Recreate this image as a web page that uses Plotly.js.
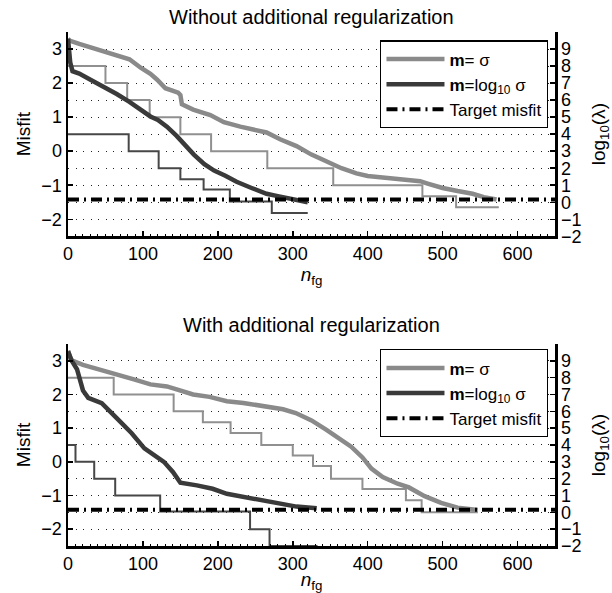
<!DOCTYPE html>
<html>
<head>
<meta charset="utf-8">
<script src="https://cdn.plot.ly/plotly-3.0.1.min.js"></script>
<style>html,body{margin:0;padding:0;background:#fff;}#chart{width:612px;height:593px;}</style>
</head>
<body>
<div id="chart"></div>
<script>
// ---------------- DATA ----------------
// Panel titles
const panelTitles = ["Without additional regularization", "With additional regularization"];
const legendNames = ["<b>m</b>= σ", "<b>m</b>=log<sub>10</sub> σ", "Target misfit"];
const targetMisfit = -1.42;
const targetX = [0, 650];

// Top panel: misfit curves (m = sigma)
const topSigmaN = [0, 2, 15, 40, 65, 82, 97, 110, 119, 130, 147, 150, 152, 167, 190, 208, 230, 250, 265, 283, 305, 325, 345, 365, 385, 400, 420, 450, 470, 480, 500, 520, 540, 555, 572];
const topSigmaMisfit = [3.3, 3.25, 3.15, 2.98, 2.83, 2.7, 2.45, 2.27, 2.1, 1.85, 1.72, 1.65, 1.38, 1.22, 1.06, 0.85, 0.72, 0.63, 0.55, 0.35, 0.15, -0.1, -0.3, -0.5, -0.65, -0.73, -0.77, -0.82, -0.88, -0.95, -1.08, -1.17, -1.25, -1.35, -1.42];
// Top panel: misfit curves (m = log10 sigma)
const topLogN = [0, 3, 6, 15, 30, 45, 65, 82, 97, 110, 120, 132, 145, 155, 168, 182, 195, 210, 225, 245, 265, 280, 300, 320];
const topLogMisfit = [3.3, 2.6, 2.35, 2.28, 2.1, 1.93, 1.68, 1.45, 1.2, 1.02, 0.92, 0.72, 0.45, 0.2, -0.1, -0.38, -0.57, -0.72, -0.9, -1.08, -1.25, -1.32, -1.42, -1.5];
// Top panel: log10(lambda) staircases
const topSigmaLamN = [0, 50, 79, 109, 150, 191, 266, 354, 473, 518, 575];
const topSigmaLam = [8, 7, 6, 5, 4, 3, 2, 1, 0.35, -0.3, -0.3];
const topLogLamN = [0, 81, 121, 150, 181, 216, 272, 320];
const topLogLam = [4, 3, 2, 1.35, 0.75, 0.05, -0.63, -0.63];

// Bottom panel: misfit curves (m = sigma)
const botSigmaN = [0, 4, 20, 43, 65, 88, 110, 132, 145, 167, 189, 212, 234, 260, 287, 304, 325, 345, 360, 378, 393, 405, 420, 440, 455, 476, 498, 520, 547];
const botSigmaMisfit = [3.3, 3.02, 2.88, 2.74, 2.62, 2.45, 2.3, 2.24, 2.15, 2.0, 1.93, 1.8, 1.75, 1.66, 1.56, 1.45, 1.23, 0.95, 0.72, 0.45, 0.13, -0.2, -0.45, -0.65, -0.76, -1.02, -1.22, -1.36, -1.43];
// Bottom panel: misfit curves (m = log10 sigma)
const botLogN = [0, 5, 12, 17, 20, 27, 45, 65, 85, 102, 120, 128, 140, 150, 172, 193, 212, 240, 275, 305, 332];
const botLogMisfit = [3.28, 3.0, 2.75, 2.4, 2.12, 1.9, 1.74, 1.3, 0.85, 0.4, 0.15, 0.0, -0.3, -0.62, -0.7, -0.8, -0.95, -1.06, -1.22, -1.33, -1.38];
// Bottom panel: log10(lambda) staircases
const botSigmaLamN = [0, 61, 141, 180, 217, 258, 300, 327, 351, 393, 451, 472, 547];
const botSigmaLam = [8, 7, 6, 5.35, 4.72, 4.0, 3.38, 2.75, 2.0, 1.38, 0.72, 0.0, 0.0];
const botLogLamN = [0, 10, 35, 63, 123, 243, 269, 333];
const botLogLam = [4, 3, 2, 1, 0.05, -1, -2, -2];

// Axis tick values
const misfitTicks = [-2, -1, 0, 1, 2, 3];
const lambdaTicks = [-2, -1, 0, 1, 2, 3, 4, 5, 6, 7, 8, 9];
const nTicks = [0, 100, 200, 300, 400, 500, 600];

// ---------------- STYLE ----------------
const FONT = "Liberation Sans, Arial, Helvetica, sans-serif";
const lightThick = "#8a8a8a", darkThick = "#3a3a3a";
const lightStep = "#909090", darkStep = "#474747";

function panelTraces(xa, yLam, yMis, leg, sN, sM, lN, lM, sLN, sL, lLN, lL) {
  return [
    {x: sLN, y: sL, xaxis: xa, yaxis: yLam, mode: "lines", line: {color: lightStep, width: 2, shape: "hv"}, showlegend: false, hoverinfo: "skip"},
    {x: lLN, y: lL, xaxis: xa, yaxis: yLam, mode: "lines", line: {color: darkStep, width: 2, shape: "hv"}, showlegend: false, hoverinfo: "skip"},
    {x: sN, y: sM, xaxis: xa, yaxis: yMis, mode: "lines", name: legendNames[0], legend: leg, line: {color: lightThick, width: 4.5}},
    {x: lN, y: lM, xaxis: xa, yaxis: yMis, mode: "lines", name: legendNames[1], legend: leg, line: {color: darkThick, width: 4.5}},
    {x: targetX, y: [targetMisfit, targetMisfit], xaxis: xa, yaxis: yMis, mode: "lines", name: legendNames[2], legend: leg, line: {color: "#000", width: 4, dash: "11px,5px,2px,5px"}}
  ];
}

const data = [].concat(
  panelTraces("x", "y", "y2", "legend", topSigmaN, topSigmaMisfit, topLogN, topLogMisfit, topSigmaLamN, topSigmaLam, topLogLamN, topLogLam),
  panelTraces("x2", "y3", "y4", "legend2", botSigmaN, botSigmaMisfit, botLogN, botLogMisfit, botSigmaLamN, botSigmaLam, botLogLamN, botLogLam)
);

function xAxis(anchor) {
  return {
    anchor: anchor, domain: [0, 1], range: [0, 650], tickvals: nTicks,
    ticks: "inside", ticklen: 5, tickwidth: 1.5, tickcolor: "#000",
    showline: true, linecolor: "#000", linewidth: 2.5, showgrid: false, zeroline: false,
    minor: {dtick: 10, ticks: "inside", ticklen: 2, tickcolor: "#000", tickwidth: 1, showgrid: false},
    tickfont: {family: FONT, size: 18, color: "#000"},
    title: {text: "<i>n</i><sub>fg</sub>", font: {family: FONT, size: 19, color: "#000"}, standoff: 3}
  };
}
function lamAxis(anchorX, domain) {
  return {
    anchor: anchorX, side: "right", domain: domain, range: [-2, 10], tickvals: lambdaTicks,
    ticks: "inside", ticklen: 5, tickwidth: 1.5, tickcolor: "#000",
    showline: true, linecolor: "#000", linewidth: 2.5, zeroline: false,
    showgrid: true, gridcolor: "#222", gridwidth: 1, griddash: "1px,6.5px",
    tickfont: {family: FONT, size: 18, color: "#000"},
    title: {text: "log<sub>10</sub>(λ)", font: {family: FONT, size: 19, color: "#000"}, standoff: 19}
  };
}
function misAxis(anchorX, overlay) {
  return {
    anchor: anchorX, overlaying: overlay, side: "left", range: [-2.5, 3.5], tickvals: misfitTicks,
    ticks: "inside", ticklen: 5, tickwidth: 1.5, tickcolor: "#000",
    showline: true, linecolor: "#000", linewidth: 2.5, zeroline: false, showgrid: false,
    tickfont: {family: FONT, size: 18, color: "#000"},
    title: {text: "Misfit", font: {family: FONT, size: 19, color: "#000"}, standoff: 6}
  };
}
function legendBox(yTop) {
  return {
    x: 0.986, xanchor: "right", y: yTop, yanchor: "top",
    bgcolor: "#fff", bordercolor: "#000", borderwidth: 1.3, itemwidth: 58,
    font: {family: FONT, size: 17, color: "#000"}, tracegroupgap: 0
  };
}

const layout = {
  width: 612, height: 593,
  margin: {l: 67.5, r: 56.5, t: 32, b: 47, pad: 0},
  paper_bgcolor: "#fff", plot_bgcolor: "#fff",
  font: {family: FONT, size: 18, color: "#000"},
  showlegend: true,
  xaxis: xAxis("y"),
  xaxis2: xAxis("y3"),
  yaxis: lamAxis("x", [0.6025, 1]),
  yaxis2: misAxis("x", "y"),
  yaxis3: lamAxis("x2", [0, 0.393]),
  yaxis4: misAxis("x2", "y3"),
  legend: legendBox(0.984),
  legend2: legendBox(0.383),
  annotations: [
    {text: panelTitles[0], xref: "paper", yref: "paper", x: 0.5, y: 1.029, xanchor: "center", yanchor: "middle", showarrow: false, font: {family: FONT, size: 20, color: "#000"}},
    {text: panelTitles[1], xref: "paper", yref: "paper", x: 0.5, y: 0.43, xanchor: "center", yanchor: "middle", showarrow: false, font: {family: FONT, size: 20, color: "#000"}}
  ]
};

Plotly.newPlot("chart", data, layout, {displayModeBar: false, staticPlot: true});
</script>
</body>
</html>
